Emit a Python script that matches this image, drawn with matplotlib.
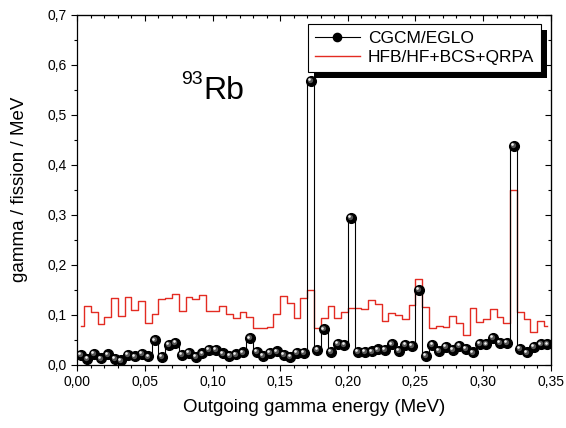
import numpy as np
import matplotlib
matplotlib.use("Agg")
import matplotlib.pyplot as plt
from matplotlib.ticker import MultipleLocator, FuncFormatter
from matplotlib.transforms import ScaledTranslation, IdentityTransform
from matplotlib.patches import Rectangle

plt.rcParams['font.family'] = ['Liberation Sans', 'DejaVu Sans']

# bin centres (MeV), 5 keV bins
energy = np.round(np.arange(0.0025, 0.35, 0.005), 4)

# CGCM/EGLO (black balls)
cgcm = [0.020, 0.012, 0.022, 0.013, 0.021, 0.012, 0.009, 0.020, 0.017, 0.022,
        0.017, 0.049, 0.016, 0.040, 0.044, 0.020, 0.024, 0.016, 0.023, 0.030,
        0.030, 0.023, 0.018, 0.021, 0.025, 0.053, 0.026, 0.018, 0.024, 0.027,
        0.020, 0.016, 0.024, 0.024, 0.567, 0.030, 0.071, 0.026, 0.042, 0.040,
        0.294, 0.026, 0.026, 0.027, 0.031, 0.030, 0.041, 0.028, 0.040, 0.038,
        0.150, 0.018, 0.040, 0.028, 0.036, 0.030, 0.038, 0.032, 0.025, 0.042,
        0.041, 0.054, 0.044, 0.044, 0.437, 0.032, 0.025, 0.036, 0.041, 0.041]

# HFB/HF+BCS+QRPA (red histogram)
hfb = [0.078, 0.117, 0.105, 0.082, 0.096, 0.133, 0.098, 0.135, 0.109, 0.128,
       0.084, 0.101, 0.131, 0.134, 0.141, 0.107, 0.136, 0.131, 0.140, 0.107,
       0.107, 0.117, 0.101, 0.094, 0.105, 0.096, 0.074, 0.074, 0.075, 0.102,
       0.137, 0.124, 0.094, 0.134, 0.150, 0.074, 0.094, 0.117, 0.093, 0.105,
       0.114, 0.113, 0.111, 0.130, 0.122, 0.087, 0.103, 0.099, 0.091, 0.119,
       0.171, 0.115, 0.073, 0.078, 0.076, 0.098, 0.084, 0.060, 0.113, 0.086,
       0.091, 0.111, 0.096, 0.084, 0.350, 0.106, 0.091, 0.066, 0.088, 0.078]

fig = plt.figure(figsize=(5.66, 4.28), dpi=100)
ax = fig.add_axes([0.1366, 0.1472, 0.8364, 0.8189])

ax.plot(energy, cgcm, color='black', lw=0.8, drawstyle='steps-mid',
        marker='o', ms=7.0, mfc='black', mec='black', label='CGCM/EGLO', zorder=3)
# shading on the balls
sh1 = ax.transData + ScaledTranslation(-0.7 / 72, 0.7 / 72, fig.dpi_scale_trans)
sh2 = ax.transData + ScaledTranslation(-1.3 / 72, 1.3 / 72, fig.dpi_scale_trans)
ax.plot(energy, cgcm, ls='none', marker='o', ms=3.8, mfc='#555555', mec='none',
        transform=sh1, zorder=3.1)
ax.plot(energy, cgcm, ls='none', marker='o', ms=1.9, mfc='white', mec='none',
        alpha=0.9, transform=sh2, zorder=3.2)

ax.plot(energy, hfb, color='#e32b22', lw=1.0, drawstyle='steps-mid',
        label='HFB/HF+BCS+QRPA', zorder=2)

ax.set_xlim(0, 0.35)
ax.set_ylim(0, 0.7)
ax.xaxis.set_major_locator(MultipleLocator(0.05))
ax.xaxis.set_minor_locator(MultipleLocator(0.01))
ax.yaxis.set_major_locator(MultipleLocator(0.1))
ax.yaxis.set_minor_locator(MultipleLocator(0.05))
ax.xaxis.set_major_formatter(FuncFormatter(lambda v, p: f"{v:.2f}".replace('.', ',')))
ax.yaxis.set_major_formatter(FuncFormatter(lambda v, p: f"{v:.1f}".replace('.', ',')))
ax.tick_params(which='both', direction='out', width=0.8, labelsize=10, colors='black')
ax.tick_params(which='major', length=4)
ax.tick_params(which='minor', length=2.5)
for s in ax.spines.values():
    s.set_linewidth(0.9)

# mirrored ticks on top and right, pointing inward
top = ax.secondary_xaxis('top')
right = ax.secondary_yaxis('right')
for sec in (top, right):
    sec.tick_params(which='both', direction='in', width=0.8, labelsize=0)
    sec.tick_params(which='major', length=4)
    sec.tick_params(which='minor', length=2.5)
    sec.spines[list(sec.spines.keys())[0]].set_linewidth(0.9)
top.xaxis.set_major_locator(MultipleLocator(0.05))
top.xaxis.set_minor_locator(MultipleLocator(0.01))
top.set_xticklabels([])
right.yaxis.set_major_locator(MultipleLocator(0.1))
right.yaxis.set_minor_locator(MultipleLocator(0.05))
right.set_yticklabels([])

ax.set_xlabel('Outgoing gamma energy (MeV)', fontsize=13.5, labelpad=7)
ax.set_ylabel('gamma / fission / MeV', fontsize=13.5, labelpad=14)

fig.text(180.7 / 566, 1 - 84 / 428, '93', fontsize=14, va='baseline', ha='left')
fig.text(203 / 566, 1 - 99.3 / 428, 'Rb', fontsize=23, va='baseline', ha='left')

leg = ax.legend(loc='upper right', bbox_to_anchor=(0.9795, 0.973), borderaxespad=0,
                fontsize=12.5, frameon=True, fancybox=False, numpoints=1,
                handlelength=2.6, handletextpad=0.45, labelspacing=0.2,
                borderpad=0.4, markerscale=0.85, framealpha=1)
leg.get_frame().set_edgecolor('black')
leg.get_frame().set_facecolor('white')
leg.get_frame().set_linewidth(0.8)
leg.set_zorder(6)

fig.canvas.draw()
bb = leg.get_window_extent()
shadow = Rectangle((bb.x0 + 6, bb.y0 - 6), bb.width, bb.height, transform=IdentityTransform(),
                   facecolor='black', edgecolor='none', zorder=5.5)
ax.add_patch(shadow)

fig.savefig('out.png', dpi=100)
